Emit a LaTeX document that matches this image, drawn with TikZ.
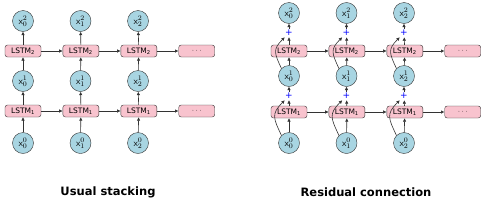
\documentclass[tikz,border=0pt]{standalone}
\usepackage{fontspec}
\setmainfont{DejaVu Sans}
\usetikzlibrary{arrows.meta,positioning}
\definecolor{cellpink}{HTML}{F8C3CE}
\definecolor{stateblue}{HTML}{A8D5E2}
\definecolor{edge}{HTML}{333333}
\newcommand\xs[2]{$\mathsf{x}^{#1}_{#2}$}

\begin{document}
\begin{tikzpicture}[
  x=1pt,y=-1pt,
  node distance=21.5pt,
  cell/.style={draw=edge,fill=cellpink,rounded corners=2.5pt,minimum width=36pt,minimum height=12pt,inner sep=0pt,font=\fontsize{7.5}{8}\selectfont},
  state/.style={circle,draw=edge,fill=stateblue,minimum size=21pt,inner sep=0pt,font=\fontsize{9.5}{10}\selectfont},
  arrow/.style={-{Latex[length=3.5pt,width=3.5pt]},edge,semithick},
  plus/.style={text=blue,minimum size=8pt,inner sep=0pt,font=\fontsize{9}{9}\selectfont},
  caption/.style={font=\bfseries\fontsize{11.5}{13}\selectfont}
]
\useasboundingbox (0,0) rectangle (486,204);
% usual stacking
\node[state] (u-x00) at (23,143) {\xs{0}{0}};
\node[state] (u-x01) at (80.5,143) {\xs{0}{1}};
\node[state] (u-x02) at (138,143) {\xs{0}{2}};
\node[cell] (u-l10) at (23,111) {LSTM\textsubscript{1}};
\node[cell,right=of u-l10] (u-l11) {LSTM\textsubscript{1}};
\node[cell,right=of u-l11] (u-l12) {LSTM\textsubscript{1}};
\node[cell,right=of u-l12] (u-d1) {$\cdots$};
\node[state] (u-x10) at (23,81) {\xs{1}{0}};
\node[state] (u-x11) at (80.5,81) {\xs{1}{1}};
\node[state] (u-x12) at (138,81) {\xs{1}{2}};
\node[cell] (u-l20) at (23,51) {LSTM\textsubscript{2}};
\node[cell,right=of u-l20] (u-l21) {LSTM\textsubscript{2}};
\node[cell,right=of u-l21] (u-l22) {LSTM\textsubscript{2}};
\node[cell,right=of u-l22] (u-d2) {$\cdots$};
\node[state] (u-x20) at (23,21) {\xs{2}{0}};
\node[state] (u-x21) at (80.5,21) {\xs{2}{1}};
\node[state] (u-x22) at (138,21) {\xs{2}{2}};
\draw[arrow] (u-x00) -- (u-l10);
\draw[arrow] (u-x01) -- (u-l11);
\draw[arrow] (u-x02) -- (u-l12);
\draw[arrow] (u-l10) -- (u-x10);
\draw[arrow] (u-l11) -- (u-x11);
\draw[arrow] (u-l12) -- (u-x12);
\draw[arrow] (u-x10) -- (u-l20);
\draw[arrow] (u-x11) -- (u-l21);
\draw[arrow] (u-x12) -- (u-l22);
\draw[arrow] (u-l20) -- (u-x20);
\draw[arrow] (u-l21) -- (u-x21);
\draw[arrow] (u-l22) -- (u-x22);
\draw[arrow] (u-l10) -- (u-l11);
\draw[arrow] (u-l11) -- (u-l12);
\draw[arrow] (u-l12) -- (u-d1);
\draw[arrow] (u-l20) -- (u-l21);
\draw[arrow] (u-l21) -- (u-l22);
\draw[arrow] (u-l22) -- (u-d2);
\node[caption] (u-cap) at (108,192) {Usual stacking};
% residual connection
\node[state] (r-x00) at (289,143) {\xs{0}{0}};
\node[state] (r-x01) at (346.5,143) {\xs{0}{1}};
\node[state] (r-x02) at (404,143) {\xs{0}{2}};
\node[cell] (r-l10) at (289,112) {LSTM\textsubscript{1}};
\node[cell,right=of r-l10] (r-l11) {LSTM\textsubscript{1}};
\node[cell,right=of r-l11] (r-l12) {LSTM\textsubscript{1}};
\node[cell,right=of r-l12] (r-d1) {$\cdots$};
\node[plus] (r-p10) at (289,96) {+};
\node[plus] (r-p11) at (346.5,96) {+};
\node[plus] (r-p12) at (404,96) {+};
\node[state] (r-x10) at (289,76) {\xs{1}{0}};
\node[state] (r-x11) at (346.5,76) {\xs{1}{1}};
\node[state] (r-x12) at (404,76) {\xs{1}{2}};
\node[cell] (r-l20) at (289,51) {LSTM\textsubscript{2}};
\node[cell,right=of r-l20] (r-l21) {LSTM\textsubscript{2}};
\node[cell,right=of r-l21] (r-l22) {LSTM\textsubscript{2}};
\node[cell,right=of r-l22] (r-d2) {$\cdots$};
\node[plus] (r-p20) at (289,33) {+};
\node[plus] (r-p21) at (346.5,33) {+};
\node[plus] (r-p22) at (404,33) {+};
\node[state] (r-x20) at (289,13) {\xs{2}{0}};
\node[state] (r-x21) at (346.5,13) {\xs{2}{1}};
\node[state] (r-x22) at (404,13) {\xs{2}{2}};
\draw[arrow] (r-x00) -- (r-l10);
\draw[arrow] (r-x01) -- (r-l11);
\draw[arrow] (r-x02) -- (r-l12);
\draw[arrow] (r-l10) -- (r-p10);
\draw[arrow] (r-l11) -- (r-p11);
\draw[arrow] (r-l12) -- (r-p12);
\draw[arrow] (r-p10) -- (r-x10);
\draw[arrow] (r-p11) -- (r-x11);
\draw[arrow] (r-p12) -- (r-x12);
\draw[arrow] (r-x10) -- (r-l20);
\draw[arrow] (r-x11) -- (r-l21);
\draw[arrow] (r-x12) -- (r-l22);
\draw[arrow] (r-l20) -- (r-p20);
\draw[arrow] (r-l21) -- (r-p21);
\draw[arrow] (r-l22) -- (r-p22);
\draw[arrow] (r-p20) -- (r-x20);
\draw[arrow] (r-p21) -- (r-x21);
\draw[arrow] (r-p22) -- (r-x22);
\draw[arrow] (r-l10) -- (r-l11);
\draw[arrow] (r-l11) -- (r-l12);
\draw[arrow] (r-l12) -- (r-d1);
\draw[arrow] (r-l20) -- (r-l21);
\draw[arrow] (r-l21) -- (r-l22);
\draw[arrow] (r-l22) -- (r-d2);
% skip paths
\draw[arrow] (r-x00.north west) to[out=115,in=225,looseness=1.4] (r-p10.south west);
\draw[arrow] (r-x01.north west) to[out=115,in=225,looseness=1.4] (r-p11.south west);
\draw[arrow] (r-x02.north west) to[out=115,in=225,looseness=1.4] (r-p12.south west);
\draw[arrow] (r-x10.north west) to[out=115,in=225,looseness=1.4] (r-p20.south west);
\draw[arrow] (r-x11.north west) to[out=115,in=225,looseness=1.4] (r-p21.south west);
\draw[arrow] (r-x12.north west) to[out=115,in=225,looseness=1.4] (r-p22.south west);
\node[caption] (r-cap) at (366,192) {Residual connection};
\end{tikzpicture}
\end{document}
